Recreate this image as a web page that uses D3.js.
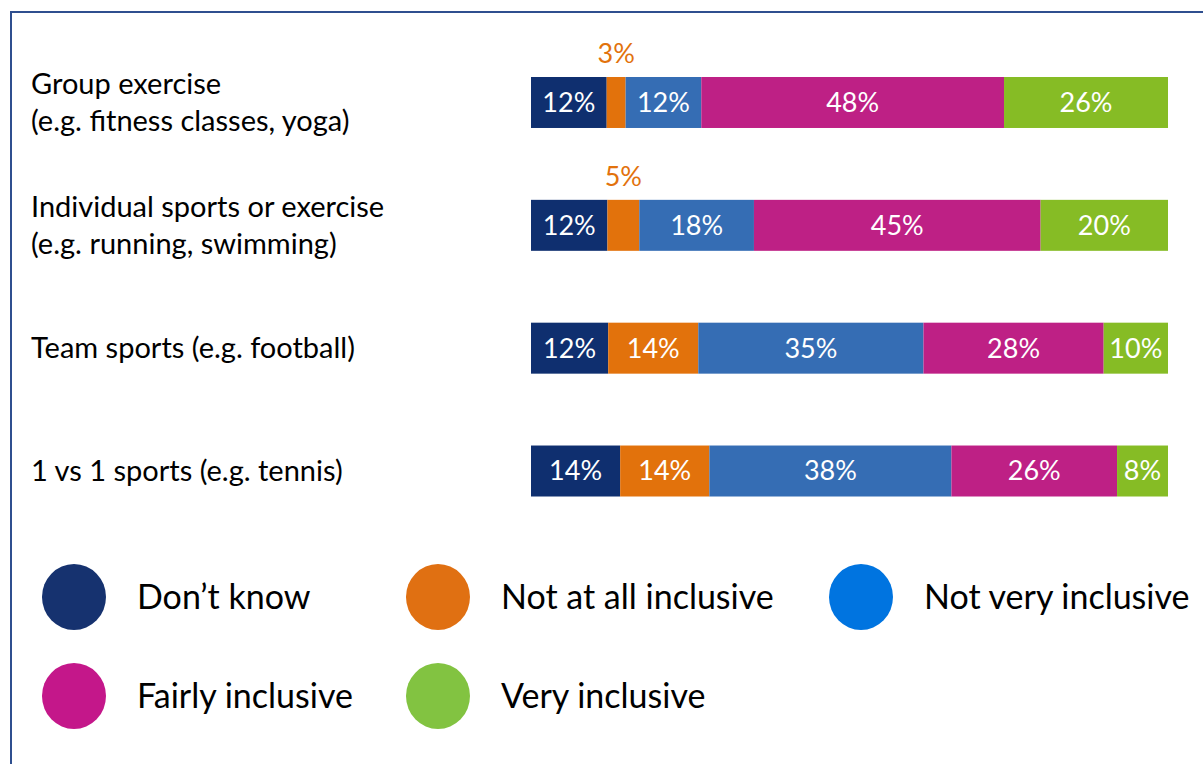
<!DOCTYPE html>
<html>
<head>
<meta charset="utf-8">
<script src="https://cdn.jsdelivr.net/npm/d3@7"></script>
<style>
  html, body { margin: 0; padding: 0; background: #fff; }
  svg { display: block; font-family: Lato, "Open Sans", sans-serif; }
</style>
</head>
<body>
<svg id="chart" width="1203" height="764"></svg>
<script>
// Activity types (each label may wrap onto two lines)
const categories = [
  "Group exercise|(e.g. fitness classes, yoga)",
  "Individual sports or exercise|(e.g. running, swimming)",
  "Team sports (e.g. football)",
  "1 vs 1 sports (e.g. tennis)"
];

// Response options, in stacking order
const responses = ["Don’t know", "Not at all inclusive", "Not very inclusive", "Fairly inclusive", "Very inclusive"];

// Percentages per response, one value per activity
const dontKnow        = [12, 12, 12, 14];
const notAtAll        = [3, 5, 14, 14];
const notVery         = [12, 18, 35, 38];
const fairly          = [48, 45, 28, 26];
const very            = [26, 20, 10, 8];

const barColors    = ["#0f2f6f", "#e2720c", "#356db4", "#be2085", "#86bc25"];
const legendColors = ["#16326f", "#e07012", "#0074e0", "#c4178a", "#82c341"];

const seriesValues = [dontKnow, notAtAll, notVery, fairly, very];
const rows = categories.map((c, i) => {
  const r = { category: c };
  responses.forEach((k, j) => { r[k] = seriesValues[j][i]; });
  return r;
});

const svg = d3.select("#chart");

// Frame around the chart
svg.append("rect")
  .attr("x", 11).attr("y", 12)
  .attr("width", 1300).attr("height", 900)
  .attr("fill", "none")
  .attr("stroke", "#2f4f8f")
  .attr("stroke-width", 2);

const x = d3.scaleLinear().domain([0, 1]).range([531, 1168]);
const y = d3.scaleBand().domain(categories).range([77, 496.5]).paddingInner(0.585).paddingOuter(0);
const color = d3.scaleOrdinal().domain(responses).range(barColors);

// Each bar is scaled to fill the full width
const stacked = d3.stack().keys(responses).offset(d3.stackOffsetExpand)(rows);

const layer = svg.append("g").selectAll("g")
  .data(stacked)
  .join("g")
  .attr("fill", d => color(d.key));

layer.selectAll("rect")
  .data(d => d.map(p => Object.assign(p, { key: d.key })))
  .join("rect")
  .attr("x", d => x(d[0]))
  .attr("y", d => y(d.data.category))
  .attr("width", d => x(d[1]) - x(d[0]))
  .attr("height", y.bandwidth());

// Value labels: inside wide segments, above narrow ones
const isNarrow = d => x(d[1]) - x(d[0]) < 40;
layer.selectAll("text")
  .data(d => d)
  .join("text")
  .attr("x", d => (x(d[0]) + x(d[1])) / 2)
  .attr("y", d => isNarrow(d) ? y(d.data.category) - 23 : y(d.data.category) + y.bandwidth() / 2)
  .attr("dy", "0.35em")
  .attr("text-anchor", "middle")
  .attr("font-size", 27)
  .attr("fill", d => isNarrow(d) ? color(d.key) : "#ffffff")
  .text(d => d.data[d.key] + "%");

// Category labels
const labels = svg.append("g").selectAll("text")
  .data(categories)
  .join("text")
  .attr("x", 31)
  .attr("font-size", 29)
  .attr("fill", "#000");

labels.each(function(c) {
  const lines = c.split("|");
  const cy = y(c) + y.bandwidth() / 2;
  const lh = 37.5;
  const t = d3.select(this);
  lines.forEach((ln, i) => {
    t.append("tspan")
      .attr("x", 31)
      .attr("y", cy + (i - (lines.length - 1) / 2) * lh)
      .attr("dy", "0.35em")
      .text(ln);
  });
});

// Legend
const legendPos = [
  { cx: 74, cy: 597 }, { cx: 438, cy: 597 }, { cx: 861, cy: 597 },
  { cx: 74, cy: 696 }, { cx: 438, cy: 696 }
];
const legend = svg.append("g").selectAll("g")
  .data(responses)
  .join("g")
  .attr("transform", (d, i) => `translate(${legendPos[i].cx},${legendPos[i].cy})`);

legend.append("ellipse")
  .attr("rx", 32).attr("ry", 33)
  .attr("fill", (d, i) => legendColors[i]);

legend.append("text")
  .attr("x", 63)
  .attr("dy", "0.35em")
  .attr("font-size", 34)
  .attr("fill", "#000")
  .text(d => d);
</script>
</body>
</html>
